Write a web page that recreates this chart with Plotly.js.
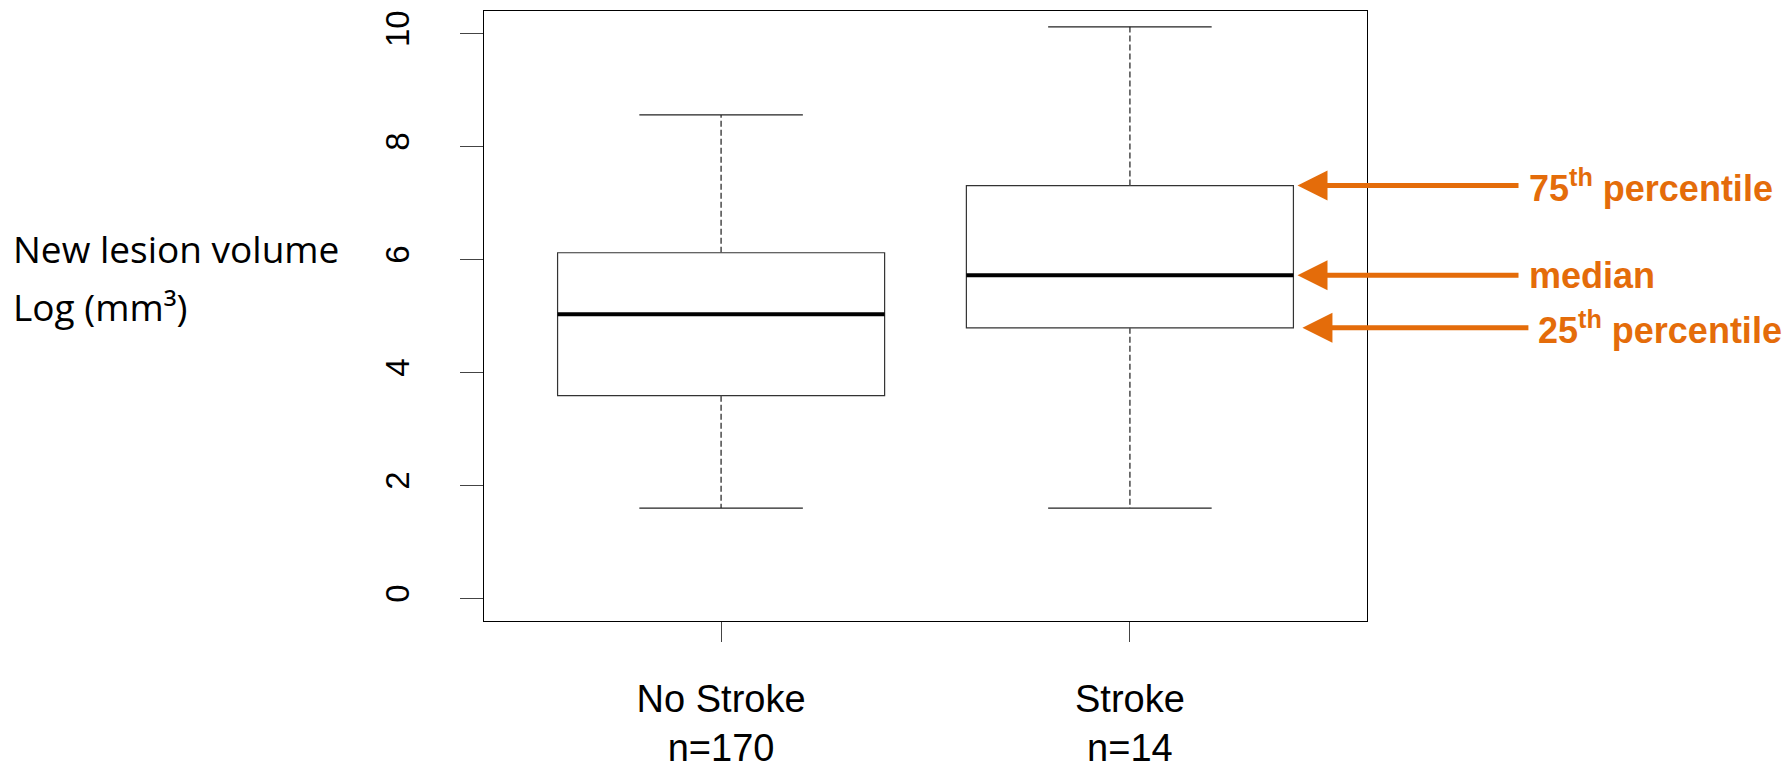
<!DOCTYPE html>
<html><head><meta charset="utf-8">
<script src="https://cdn.plot.ly/plotly-3.0.1.min.js"></script>
<style>html,body{margin:0;padding:0;background:#fff}#chart{width:1791px;height:761px}</style>
</head><body><div id="chart"></div>
<script>
// ---- data ----
const groups = ['No Stroke', 'Stroke'];
const groupN = [170, 14];
const lowerWhisker = [1.60, 1.60];
const q1 = [3.59, 4.79];
const median = [5.03, 5.72];
const q3 = [6.12, 7.31];
const upperWhisker = [8.56, 10.12];
const yTicks = [0, 2, 4, 6, 8, 10];
const yTitleLines = ['New lesion volume', 'Log (mm³)'];
const calloutLabels = ['75<sup>th</sup> percentile', 'median', '25<sup>th</sup> percentile'];

// ---- styling ----
const ORANGE = '#E46C0A';
const BOXW = 0.8, CAPW = 0.4;
const traces = [];
groups.forEach((g, i) => {
  const pos = i + 1;
  traces.push({
    type: 'box', x: [pos], q1: [q1[i]], median: [median[i]], q3: [q3[i]],
    lowerfence: [q1[i]], upperfence: [q3[i]], width: BOXW, whiskerwidth: 0,
    fillcolor: 'rgba(255,255,255,0)', line: {color: '#333', width: 1.2},
    boxpoints: false, hoverinfo: 'skip', showlegend: false, name: g
  });
  traces.push({
    type: 'scatter', mode: 'lines', showlegend: false, hoverinfo: 'skip',
    x: [pos, pos, null, pos, pos], y: [q3[i], upperWhisker[i], null, q1[i], lowerWhisker[i]],
    line: {color: '#555', width: 1.6, dash: '6px,3px'}
  });
  traces.push({
    type: 'scatter', mode: 'lines', showlegend: false, hoverinfo: 'skip',
    x: [pos - CAPW/2, pos + CAPW/2, null, pos - CAPW/2, pos + CAPW/2],
    y: [upperWhisker[i], upperWhisker[i], null, lowerWhisker[i], lowerWhisker[i]],
    line: {color: '#222', width: 1.3}
  });
  traces.push({
    type: 'scatter', mode: 'lines', showlegend: false, hoverinfo: 'skip',
    x: [pos - BOXW/2, pos + BOXW/2], y: [median[i], median[i]],
    line: {color: '#000', width: 4}
  });
});

const s = 1; // Stroke group index for callouts
const calloutVals = [q3[s], median[s], q1[s]];
const calloutX = [2.41, 2.41, 2.422];
const calloutAx = [221, 221, 226];
const annotations = calloutLabels.map((t, k) => ({
  text: t, x: calloutX[k], y: calloutVals[k], xref: 'x', yref: 'y',
  showarrow: true, ax: calloutAx[k], ay: 0, xanchor: 'left', yanchor: 'middle',
  borderpad: 9,
  arrowhead: 2, arrowsize: 1.2, arrowwidth: 5, arrowcolor: ORANGE,
  font: {family: 'Liberation Sans, Arial, sans-serif', size: 36, color: ORANGE, weight: 'bold'}
}));
const yTitleY = [0.61, 0.516];
yTitleLines.forEach((t, k) => annotations.push({
  text: t, xref: 'paper', yref: 'paper', x: -0.5357, y: yTitleY[k],
  xanchor: 'left', yanchor: 'middle', showarrow: false,
  font: {family: 'Open Sans, sans-serif', size: 37, color: '#000'}
}));

const layout = {
  width: 1791, height: 761,
  margin: {l: 484, r: 424, t: 11, b: 140},
  paper_bgcolor: '#fff', plot_bgcolor: '#fff',
  hovermode: false, showlegend: false,
  xaxis: {
    range: [0.42, 2.58], tickvals: [1, 2],
    ticktext: groups.map((g, i) => g + '<br>n=' + groupN[i]),
    ticks: 'outside', ticklen: 20, tickcolor: '#444', tickwidth: 1,
    showline: true, linecolor: '#000', linewidth: 1, mirror: true,
    showgrid: false, zeroline: false, ticklabelstandoff: 24,
    tickfont: {family: 'Liberation Sans, Arial, sans-serif', size: 38, color: '#000'}
  },
  yaxis: {
    range: [-0.4, 10.4], tickvals: yTicks, ticktext: yTicks.map(String),
    ticks: 'outside', ticklen: 23, tickcolor: '#444', tickwidth: 1, tickangle: -90,
    showline: true, linecolor: '#000', linewidth: 1, mirror: true,
    showgrid: false, zeroline: false, ticklabelstandoff: 38,
    tickfont: {family: 'Liberation Sans, Arial, sans-serif', size: 33, color: '#000'}
  },
  annotations: annotations
};
Plotly.newPlot('chart', traces, layout, {displayModeBar: false, staticPlot: true});
</script></body></html>
